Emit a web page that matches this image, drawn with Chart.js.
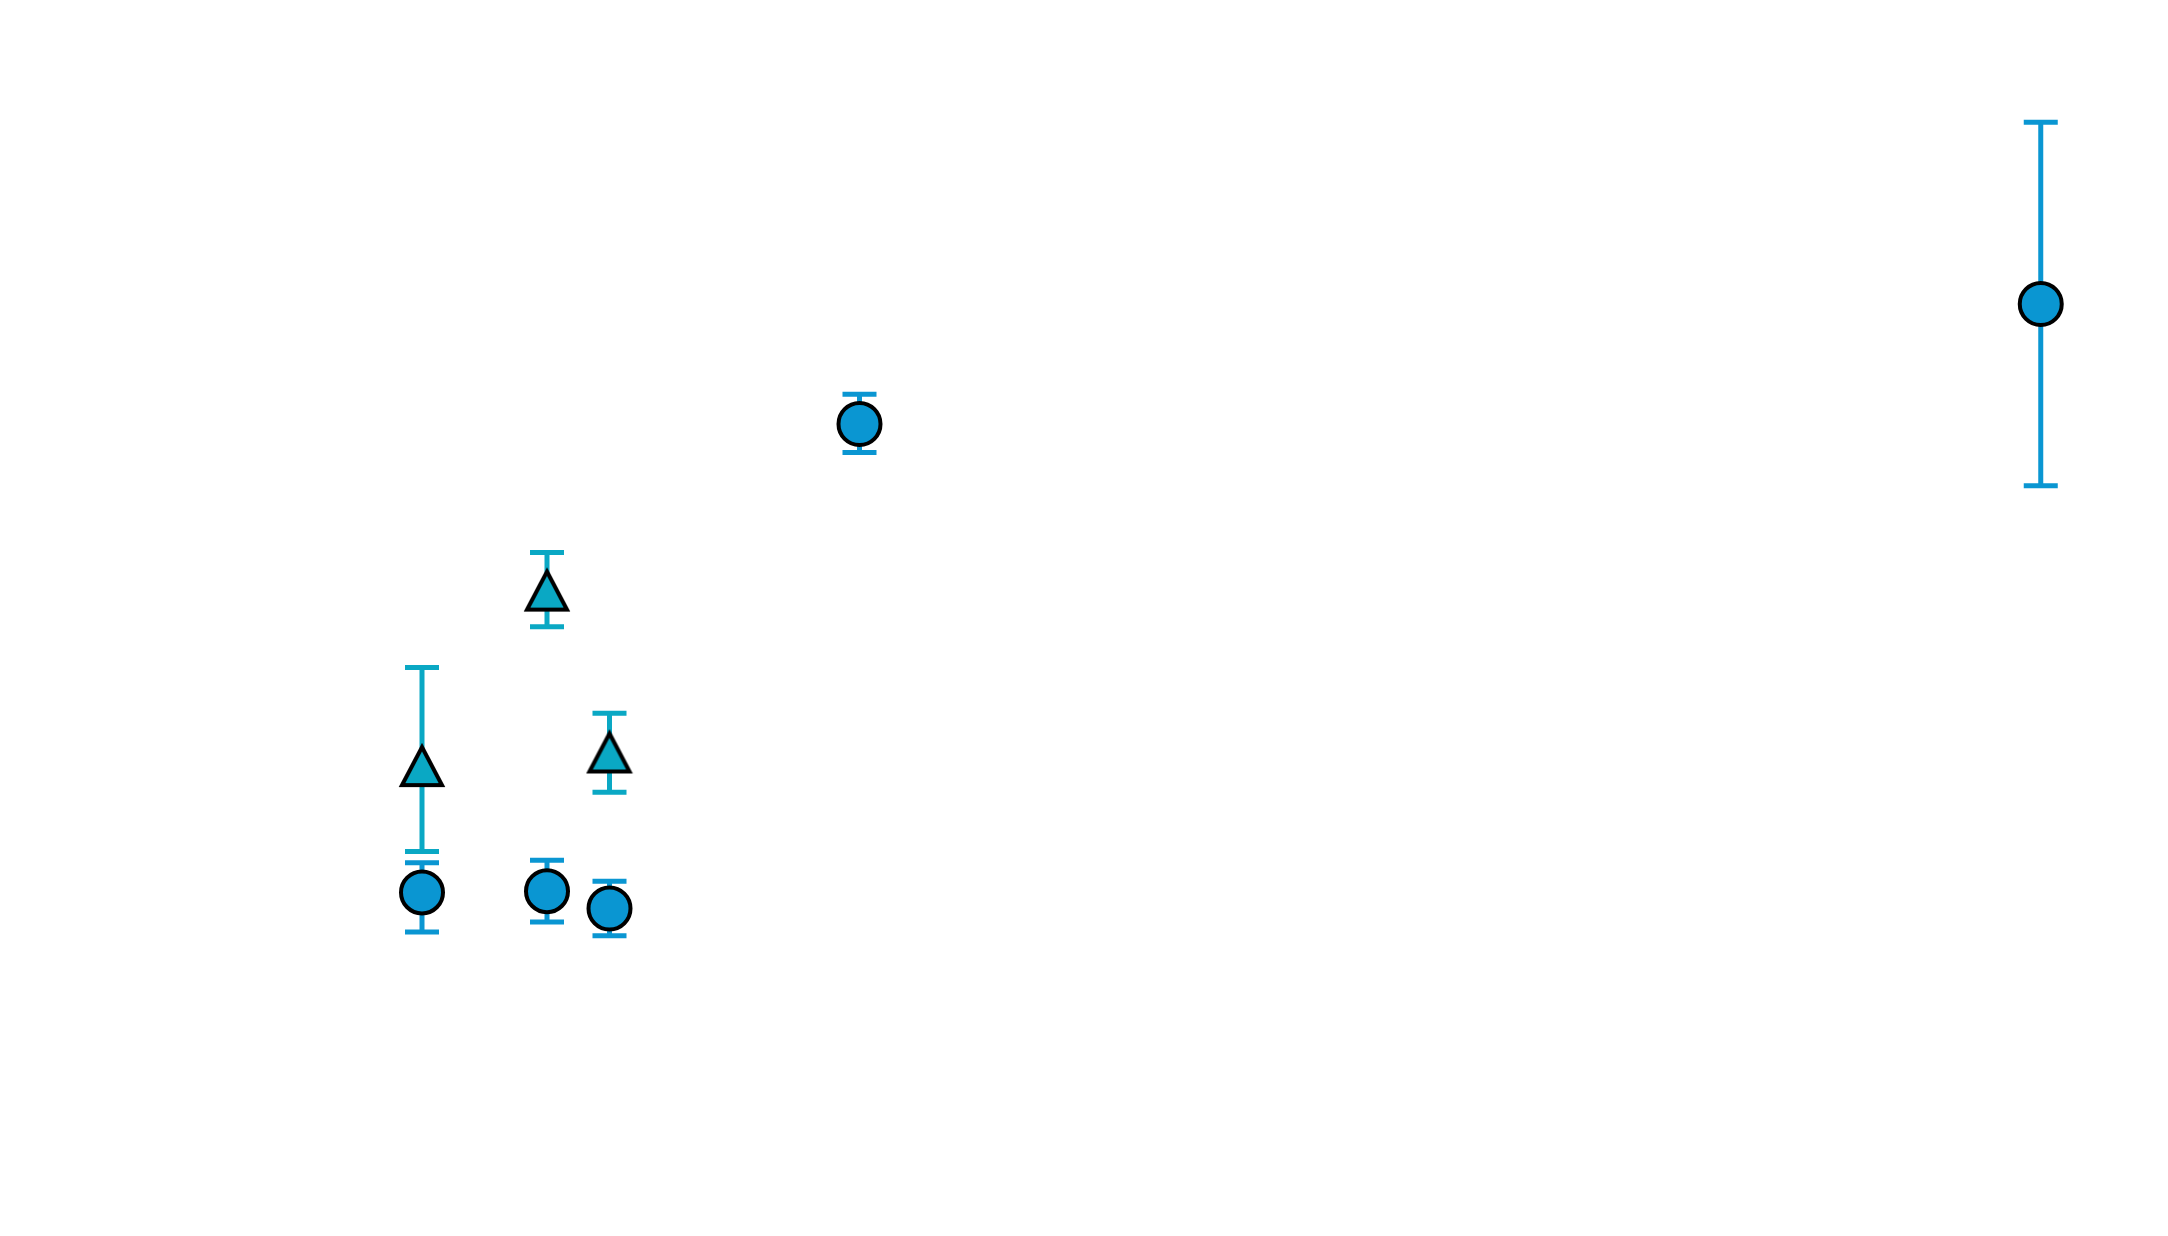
<!DOCTYPE html>
<html>
<head>
<meta charset="utf-8">
<style>
  html, body { margin: 0; padding: 0; background: #ffffff; }
  #wrap { width: 2168px; height: 1236px; }
</style>
<script src="https://cdn.jsdelivr.net/npm/chart.js@4/dist/chart.umd.min.js"></script>
</head>
<body>
<div id="wrap"><canvas id="c" width="2168" height="1236"></canvas></div>
<script>
// Circle series
const circleX = [2, 4, 5, 9, 27.9];
const circleY = [27.8, 27.9, 26.5, 65.7, 75.4];
const circleLow = [24.6, 25.4, 24.3, 63.4, 60.7];
const circleHigh = [30.2, 30.4, 28.7, 68.1, 90.1];

// Triangle series
const triX = [2, 4, 5];
const triY = [38.1, 52.3, 39.2];
const triLow = [31.1, 49.3, 35.9];
const triHigh = [46.0, 55.3, 42.3];

const circleColor = '#0a96d2';
const triColor = '#0aa8c4';

function pts(xs, ys, lo, hi) {
  return xs.map((x, i) => ({ x: x, y: ys[i], lo: lo[i], hi: hi[i] }));
}

// triangle marker (matplotlib-like '^', centred on its bounding box)
function makeTriangle() {
  const cv = document.createElement('canvas');
  cv.width = 48; cv.height = 46;
  const g = cv.getContext('2d');
  g.beginPath();
  g.moveTo(24, 5);
  g.lineTo(44, 43);
  g.lineTo(4, 43);
  g.closePath();
  g.fillStyle = triColor;
  g.fill();
  g.lineJoin = 'miter';
  g.lineWidth = 4;
  g.strokeStyle = '#000000';
  g.stroke();
  return cv;
}

const errorBars = {
  id: 'errorBars',
  beforeDatasetsDraw(chart) {
    const ctx = chart.ctx;
    const ys = chart.scales.y, xs = chart.scales.x;
    chart.data.datasets.forEach((ds) => {
      ctx.save();
      ctx.strokeStyle = ds.errColor;
      ctx.lineWidth = 5;
      ds.data.forEach((p) => {
        const px = xs.getPixelForValue(p.x);
        const pl = ys.getPixelForValue(p.lo);
        const ph = ys.getPixelForValue(p.hi);
        const cw = 17;
        ctx.beginPath();
        ctx.moveTo(px, pl); ctx.lineTo(px, ph);
        ctx.moveTo(px - cw, pl); ctx.lineTo(px + cw, pl);
        ctx.moveTo(px - cw, ph); ctx.lineTo(px + cw, ph);
        ctx.stroke();
      });
      ctx.restore();
    });
  }
};

new Chart(document.getElementById('c'), {
  type: 'scatter',
  data: {
    datasets: [
      {
        label: 'Circles',
        data: pts(circleX, circleY, circleLow, circleHigh),
        pointStyle: 'circle',
        pointRadius: 21,
        pointHoverRadius: 21,
        backgroundColor: circleColor,
        borderColor: '#000000',
        borderWidth: 4,
        errColor: circleColor
      },
      {
        label: 'Triangles',
        data: pts(triX, triY, triLow, triHigh),
        pointStyle: makeTriangle(),
        pointRadius: 24,
        pointHoverRadius: 24,
        backgroundColor: triColor,
        borderColor: '#000000',
        borderWidth: 4,
        errColor: triColor
      }
    ]
  },
  options: {
    responsive: false,
    animation: false,
    devicePixelRatio: 1,
    layout: { padding: 0, autoPadding: false },
    plugins: { legend: { display: false }, tooltip: { enabled: false } },
    scales: {
      x: { type: 'linear', display: false, min: -4.752, max: 29.936 },
      y: { type: 'linear', display: false, min: 0, max: 100 }
    }
  },
  plugins: [errorBars]
});
</script>
</body>
</html>
